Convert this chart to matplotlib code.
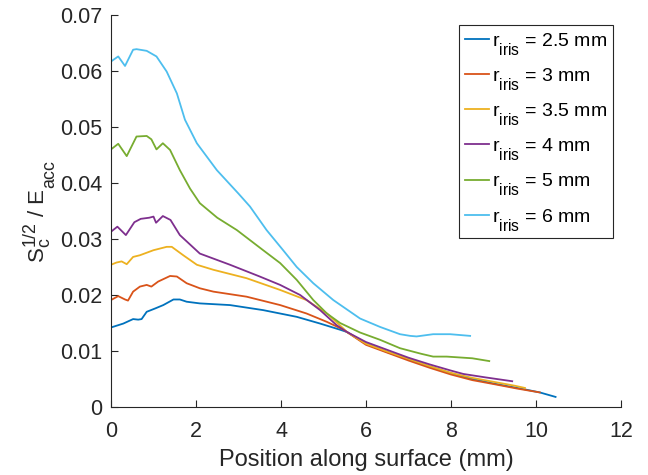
import matplotlib
matplotlib.use("Agg")
import matplotlib.pyplot as plt
try:
    import matplotlib._mathtext as _mt
    _mt.SHRINK_FACTOR = 0.8
    _mt.FontConstantsBase.sub1 = 0.9
except Exception:
    pass

plt.rcParams['font.family'] = ['Liberation Sans', 'DejaVu Sans']
plt.rcParams['mathtext.fontset'] = 'custom'
plt.rcParams['mathtext.rm'] = 'Liberation Sans'
plt.rcParams['mathtext.it'] = 'Liberation Sans'

labels = [r'r$_{\mathregular{iris}}$ = 2.5 mm', r'r$_{\mathregular{iris}}$ = 3 mm',
          r'r$_{\mathregular{iris}}$ = 3.5 mm', r'r$_{\mathregular{iris}}$ = 4 mm',
          r'r$_{\mathregular{iris}}$ = 5 mm', r'r$_{\mathregular{iris}}$ = 6 mm']
colors = ['#0072BD', '#D95319', '#EDB120', '#7E2F8E', '#77AC30', '#4DBEEE']

x25 = [0, 0.29, 0.52, 0.64, 0.72, 0.84, 1.04, 1.23, 1.47, 1.62, 1.78, 2.09, 2.8, 3.58, 4.37, 4.92, 5.39,
       5.55, 6.0, 6.5, 7.0, 7.5, 8.0, 8.5, 9.0, 9.7, 10.09, 10.46]
y25 = [0.0142, 0.0149, 0.0157, 0.0156, 0.0157, 0.0170, 0.0176, 0.0182, 0.0192, 0.0192, 0.0188, 0.0185,
       0.0182, 0.0173, 0.0161, 0.0149, 0.0138, 0.0134, 0.0113, 0.0098, 0.0085, 0.0072, 0.0060, 0.0050,
       0.0042, 0.0032, 0.0026, 0.0018]

x3 = [0, 0.17, 0.33, 0.4, 0.52, 0.68, 0.84, 0.95, 1.11, 1.39, 1.55, 1.78, 2.09, 2.41, 3.19, 3.98, 4.6,
      5.08, 5.47, 5.55, 6.0, 6.5, 7.0, 7.5, 8.0, 8.5, 9.0, 9.55, 10.09]
y3 = [0.0191, 0.0198, 0.0192, 0.0190, 0.0206, 0.0215, 0.0218, 0.0215, 0.0224, 0.0234, 0.0233, 0.0221,
      0.0212, 0.0206, 0.0197, 0.0182, 0.0167, 0.0152, 0.0138, 0.0134, 0.0111, 0.0097, 0.0083, 0.0070,
      0.0058, 0.0048, 0.0041, 0.0033, 0.0026]

x35 = [0, 0.13, 0.25, 0.37, 0.52, 0.68, 1.0, 1.31, 1.43, 1.7, 2.02, 2.41, 3.19, 3.98, 4.6, 5.08, 5.47,
       5.55, 6.0, 6.5, 7.0, 7.5, 8.0, 8.5, 9.0, 9.5, 9.74]
y35 = [0.0254, 0.0258, 0.0260, 0.0255, 0.0268, 0.0271, 0.0280, 0.0286, 0.0286, 0.0271, 0.0254, 0.0245,
       0.0230, 0.0209, 0.0191, 0.0167, 0.0140, 0.0134, 0.0113, 0.0099, 0.0086, 0.0073, 0.0061, 0.0052,
       0.0045, 0.0038, 0.0034]

x4 = [0, 0.15, 0.35, 0.55, 0.7, 0.9, 1.0, 1.06, 1.22, 1.4, 1.62, 2.09, 2.8, 3.5, 3.98, 4.45, 4.92, 5.31,
      5.55, 6.0, 6.5, 7.0, 7.5, 8.0, 8.29, 8.8, 9.44]
y4 = [0.0313, 0.0322, 0.0307, 0.0330, 0.0336, 0.0338, 0.0340, 0.0329, 0.0341, 0.0334, 0.0307, 0.0274,
      0.0254, 0.0233, 0.0218, 0.0200, 0.0173, 0.0146, 0.0134, 0.0116, 0.0102, 0.0088, 0.0076, 0.0065,
      0.0059, 0.0053, 0.0046]

x5 = [0, 0.17, 0.37, 0.6, 0.84, 0.95, 1.07, 1.22, 1.39, 1.62, 1.86, 2.09, 2.5, 2.96, 3.58, 3.98, 4.37,
      4.76, 5.08, 5.39, 5.86, 6.33, 6.8, 7.3, 7.58, 7.9, 8.5, 8.9]
y5 = [0.0460, 0.0470, 0.0448, 0.0483, 0.0484, 0.0478, 0.0460, 0.0471, 0.0459, 0.0423, 0.0390, 0.0364,
      0.0338, 0.0316, 0.0280, 0.0257, 0.0227, 0.0191, 0.0167, 0.0150, 0.0133, 0.0120, 0.0105, 0.0095,
      0.0090, 0.0090, 0.0087, 0.0082]

x6 = [0, 0.17, 0.33, 0.52, 0.6, 0.84, 1.07, 1.31, 1.55, 1.74, 2.02, 2.49, 3.0, 3.27, 3.66, 4.05, 4.37,
      4.76, 5.23, 5.86, 6.33, 6.8, 7.04, 7.19, 7.58, 7.98, 8.45]
y6 = [0.0617, 0.0626, 0.0609, 0.0638, 0.0639, 0.0636, 0.0626, 0.0599, 0.0560, 0.0513, 0.0471, 0.0423,
      0.0381, 0.0358, 0.0316, 0.0280, 0.0250, 0.0221, 0.0191, 0.0158, 0.0143, 0.0130, 0.0127, 0.0126,
      0.0130, 0.0130, 0.0127]

series = [(x25, y25), (x3, y3), (x35, y35), (x4, y4), (x5, y5), (x6, y6)]

fig = plt.figure(figsize=(6.48, 4.75), dpi=100)
ax = fig.add_axes([111/648, 1 - 407/475, 510/648, 392/475])
for (xs, ys), c, lab in zip(series, colors, labels):
    ax.plot(xs, ys, color=c, lw=1.3, label=lab, solid_joinstyle='round')

ax.set_xlim(0, 12)
ax.set_ylim(0, 0.07)
ax.set_xticks(range(0, 13, 2))
ax.set_yticks([i / 100 for i in range(8)])
ax.set_yticklabels(['0'] + [f'{i/100:.2f}' for i in range(1, 8)])
for s in ['top', 'right']:
    ax.spines[s].set_visible(False)
for s in ['left', 'bottom']:
    ax.spines[s].set_color('#262626')
    ax.spines[s].set_linewidth(0.8)
ax.tick_params(direction='in', length=5, width=0.8, colors='#262626', labelsize=15.5, labelcolor='#262626')
ax.tick_params(axis='x', pad=10)
ax.tick_params(axis='y', pad=6)
ax.set_xlabel('Position along surface (mm)', fontsize=17, color='#262626', labelpad=5)
ax.set_ylabel(r'S$_\mathregular{c}^\mathregular{1/2}$ / E$_\mathregular{acc}$', fontsize=16, color='#262626', labelpad=2)

leg = ax.legend(loc='upper left', bbox_to_anchor=(459/648, 1 - 25/475), bbox_transform=fig.transFigure,
                borderaxespad=0, fontsize=14, handlelength=1.25, handletextpad=0.15, labelspacing=0.47,
                borderpad=0.3, fancybox=False, framealpha=1, edgecolor='#262626')
leg.get_frame().set_linewidth(0.8)

fig.savefig('out.png', dpi=100)
